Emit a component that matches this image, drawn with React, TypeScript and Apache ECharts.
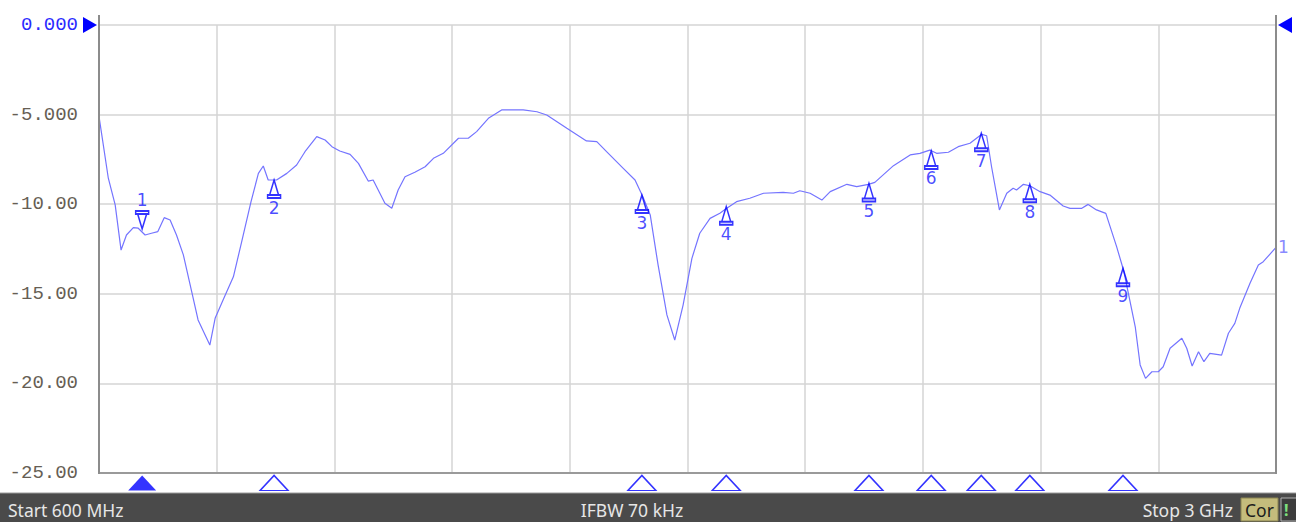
import React, { useEffect, useRef } from "react";
import * as echarts from "echarts";

// Trace: frequency (MHz) and S11 (dB)
const freqMHz = [
  600, 619, 633, 645, 656, 670, 680, 694, 707, 720, 733, 745, 758, 772, 789, 802, 826, 837, 853, 874,
  891, 910, 925, 935, 945, 962, 983, 1003, 1020, 1044, 1061, 1075, 1091, 1112, 1129, 1149, 1159, 1183,
  1197, 1210, 1224, 1244, 1265, 1282, 1302, 1333, 1353, 1370, 1394, 1421, 1465, 1493, 1513, 1554, 1594,
  1615, 1635, 1669, 1693, 1709, 1724, 1740, 1758, 1774, 1791, 1809, 1825, 1846, 1866, 1880, 1900, 1927,
  1955, 1995, 2016, 2029, 2050, 2074, 2091, 2125, 2145, 2169, 2182, 2220, 2254, 2274, 2294, 2308, 2332,
  2352, 2376, 2400, 2410, 2420, 2436, 2451, 2464, 2471, 2485, 2498, 2519, 2539, 2566, 2580, 2604, 2617,
  2634, 2653, 2675, 2689, 2699, 2713, 2723, 2734, 2747, 2760, 2770, 2784, 2808, 2818, 2829, 2842, 2853,
  2865, 2889, 2903, 2916, 2926, 2947, 2964, 2974, 3000,
];
const s11dB = [
  -5.1, -8.55, -10.04, -12.56, -11.72, -11.31, -11.34, -11.72, -11.62, -11.53, -10.75, -10.88, -11.72,
  -12.83, -14.88, -16.46, -17.86, -16.35, -15.35, -14.05, -12.09, -9.86, -8.28, -7.87, -8.65, -8.65,
  -8.28, -7.81, -7.07, -6.23, -6.42, -6.79, -7.03, -7.22, -7.72, -8.71, -8.65, -9.95, -10.23, -9.21,
  -8.47, -8.22, -7.91, -7.44, -7.16, -6.32, -6.32, -5.95, -5.21, -4.74, -4.74, -4.84, -5.02, -5.76,
  -6.47, -6.51, -7.07, -8.0, -8.65, -9.58, -10.6, -13.39, -16.18, -17.58, -15.63, -13.02, -11.62,
  -10.79, -10.51, -10.23, -9.86, -9.67, -9.39, -9.34, -9.39, -9.25, -9.39, -9.77, -9.3, -8.89, -9.02,
  -8.89, -8.78, -7.85, -7.25, -7.16, -6.98, -7.16, -7.1, -6.79, -6.6, -6.1, -6.18, -7.91, -10.32,
  -9.39, -9.11, -9.21, -8.89, -8.97, -9.3, -9.49, -10.1, -10.23, -10.23, -10.01, -10.32, -10.51,
  -12.37, -13.67, -14.97, -16.84, -18.97, -19.72, -19.35, -19.35, -19.07, -18.04, -17.48, -18.04,
  -19.03, -18.23, -18.79, -18.32, -18.42, -17.2, -16.65, -15.81, -14.41, -13.39, -13.21, -12.41,
];

// Markers
const markerIds = ["1", "2", "3", "4", "5", "6", "7", "8", "9"];
const markerFreqMHz = [688, 957, 1707, 1879, 2170, 2297, 2399, 2498, 2688];
const markerDB = [-11.38, -8.65, -9.49, -10.14, -8.84, -7.03, -6.04, -8.89, -13.58];
const activeMarker = 0;

// Axis
const yTicks = [0, -5, -10, -15, -20, -25];
const xDivisions = 10;
const startLabel = "Start 600 MHz";
const ifbwLabel = "IFBW 70 kHz";
const stopLabel = "Stop 3 GHz";
const corLabel = "Cor";

const BLUE = "#0000ff";
const TRACE = "#7474ff";

const upPath = "path://M6.5,0 L11,15 L2,15 Z M0,15 L13,15 L13,18 L0,18 Z";
const downPath = "path://M0,0 L13,0 L13,3 L0,3 Z M2,3 L11,3 L6.5,18 Z";

export default function App() {
  const ref = useRef<HTMLDivElement>(null);
  useEffect(() => {
    if (!ref.current) return;
    const chart = echarts.init(ref.current, null, { renderer: "svg" });
    const trace = freqMHz.map((f, i) => [f, s11dB[i]]);
    const upData = markerIds
      .map((id, i) => ({ id, value: [markerFreqMHz[i], markerDB[i]] }))
      .filter((_, i) => i !== activeMarker)
      .map((d) => ({ name: d.id, value: d.value }));
    const downData = [
      { name: markerIds[activeMarker], value: [markerFreqMHz[activeMarker], markerDB[activeMarker]] },
    ];
    const bottomOutline = markerFreqMHz
      .map((f, i) => ({ i, value: [f, yTicks[yTicks.length - 1]] }))
      .filter((d) => d.i !== activeMarker)
      .map((d) => ({ value: d.value }));
    const bottomFilled = [{ value: [markerFreqMHz[activeMarker], yTicks[yTicks.length - 1]] }];

    const markerLabel = {
      show: true,
      formatter: (p: any) => p.name,
      color: "#1c1cff",
      fontFamily: "DejaVu Sans",
      fontSize: 17,
    };

    chart.setOption({
      animation: false,
      grid: { left: 99, right: 20, top: 25, bottom: 49 },
      xAxis: [
        { type: "value", min: 600, max: 3000, show: false },
        {
          type: "value",
          min: 0,
          max: xDivisions,
          interval: 1,
          position: "bottom",
          axisLine: { show: true, lineStyle: { color: "#9a9a9a", width: 2 } },
          axisTick: { show: false },
          axisLabel: { show: false },
          splitLine: { show: true, lineStyle: { color: "#d4d4d4", width: 1.5 } },
        },
      ],
      yAxis: {
        type: "value",
        min: -25,
        max: 0,
        interval: 5,
        axisLine: { show: false },
        axisTick: { show: false },
        axisLabel: {
          margin: 21,
          fontFamily: "Liberation Mono",
          fontSize: 19,
          color: (v: any) => (Number(v) === 0 ? "#2a2aff" : "#665e54"),
          formatter: (v: number) => v.toPrecision(4),
        },
        splitLine: { show: true, lineStyle: { color: "#d4d4d4", width: 1.5 } },
      },
      series: [
        {
          type: "line",
          data: trace,
          showSymbol: false,
          lineStyle: { color: TRACE, width: 1.2 },
          z: 3,
          endLabel: {
            show: true,
            formatter: "1",
            color: "#8a8aff",
            fontFamily: "DejaVu Sans",
            fontSize: 17,
            distance: 2,
          },
        },
        {
          type: "scatter",
          data: upData,
          symbol: upPath,
          symbolSize: [13, 18],
          symbolOffset: [0, 9],
          itemStyle: { color: "rgba(255,255,255,0)", borderColor: BLUE, borderWidth: 1.7 },
          label: { ...markerLabel, position: "bottom", distance: 0 },
          z: 5,
        },
        {
          type: "scatter",
          data: downData,
          symbol: downPath,
          symbolSize: [13, 18],
          symbolOffset: [0, -9],
          itemStyle: { color: "rgba(255,255,255,0)", borderColor: BLUE, borderWidth: 1.7 },
          label: { ...markerLabel, position: "top", distance: 1 },
          z: 5,
        },
        {
          type: "scatter",
          data: bottomOutline,
          clip: false,
          symbol: "path://M0,15 L14,0 L28,15 Z",
          symbolSize: [28, 15],
          symbolOffset: [0, 10],
          itemStyle: { color: "#ffffff", borderColor: BLUE, borderWidth: 1.4 },
          silent: true,
          z: 5,
        },
        {
          type: "scatter",
          data: bottomFilled,
          clip: false,
          symbol: "path://M0,15 L14,0 L28,15 Z",
          symbolSize: [28, 15],
          symbolOffset: [0, 10],
          itemStyle: { color: BLUE },
          silent: true,
          z: 5,
        },
      ],
      graphic: [
        { type: "line", shape: { x1: 99, y1: 15, x2: 99, y2: 474 }, style: { stroke: "#8c8c8c", lineWidth: 2 }, z: 10 },
        { type: "line", shape: { x1: 1276, y1: 15, x2: 1276, y2: 474 }, style: { stroke: "#8c8c8c", lineWidth: 2 }, z: 10 },
        { type: "polygon", shape: { points: [[83, 17], [97, 25], [83, 33]] }, style: { fill: BLUE }, z: 10 },
        { type: "polygon", shape: { points: [[1292, 17], [1278, 25], [1292, 33]] }, style: { fill: BLUE }, z: 10 },
        { type: "rect", shape: { x: 0, y: 493, width: 1296, height: 29 }, style: { fill: "#4a4a4a" }, z: 10 },
        { type: "line", shape: { x1: 0, y1: 493, x2: 1296, y2: 493 }, style: { stroke: "#9a9a9a", lineWidth: 1 }, z: 11 },
        {
          type: "text",
          x: 8,
          y: 510,
          style: { text: startLabel, fill: "#e6e6e6", font: '17.5px "Noto Sans"', textVerticalAlign: "middle" },
          z: 11,
        },
        {
          type: "text",
          x: 632,
          y: 510,
          style: { text: ifbwLabel, fill: "#e6e6e6", font: '17.5px "Noto Sans"', textAlign: "center", textVerticalAlign: "middle" },
          z: 11,
        },
        {
          type: "text",
          x: 1233,
          y: 510,
          style: { text: stopLabel, fill: "#e6e6e6", font: '17.5px "Noto Sans"', textAlign: "right", textVerticalAlign: "middle" },
          z: 11,
        },
        { type: "rect", shape: { x: 1241, y: 498, width: 37, height: 23 }, style: { fill: "#c4bc7c", stroke: "#8a8450", lineWidth: 1 }, z: 11 },
        {
          type: "text",
          x: 1259.5,
          y: 510,
          style: { text: corLabel, fill: "#1c1c1c", font: '17.5px "Noto Sans"', textAlign: "center", textVerticalAlign: "middle" },
          z: 12,
        },
        { type: "rect", shape: { x: 1281, y: 498, width: 20, height: 23 }, style: { fill: "#3c3c3c", stroke: "#b0b0b0", lineWidth: 1 }, z: 11 },
        {
          type: "text",
          x: 1284,
          y: 510,
          style: { text: "!", fill: "#7ee07e", font: 'bold 16px "Noto Sans"', textVerticalAlign: "middle" },
          z: 12,
        },
      ],
    });
    return () => chart.dispose();
  }, []);
  return (
    <div
      ref={ref}
      style={{ position: "fixed", left: 0, top: 0, width: 1296, height: 522, background: "#ffffff" }}
    />
  );
}
